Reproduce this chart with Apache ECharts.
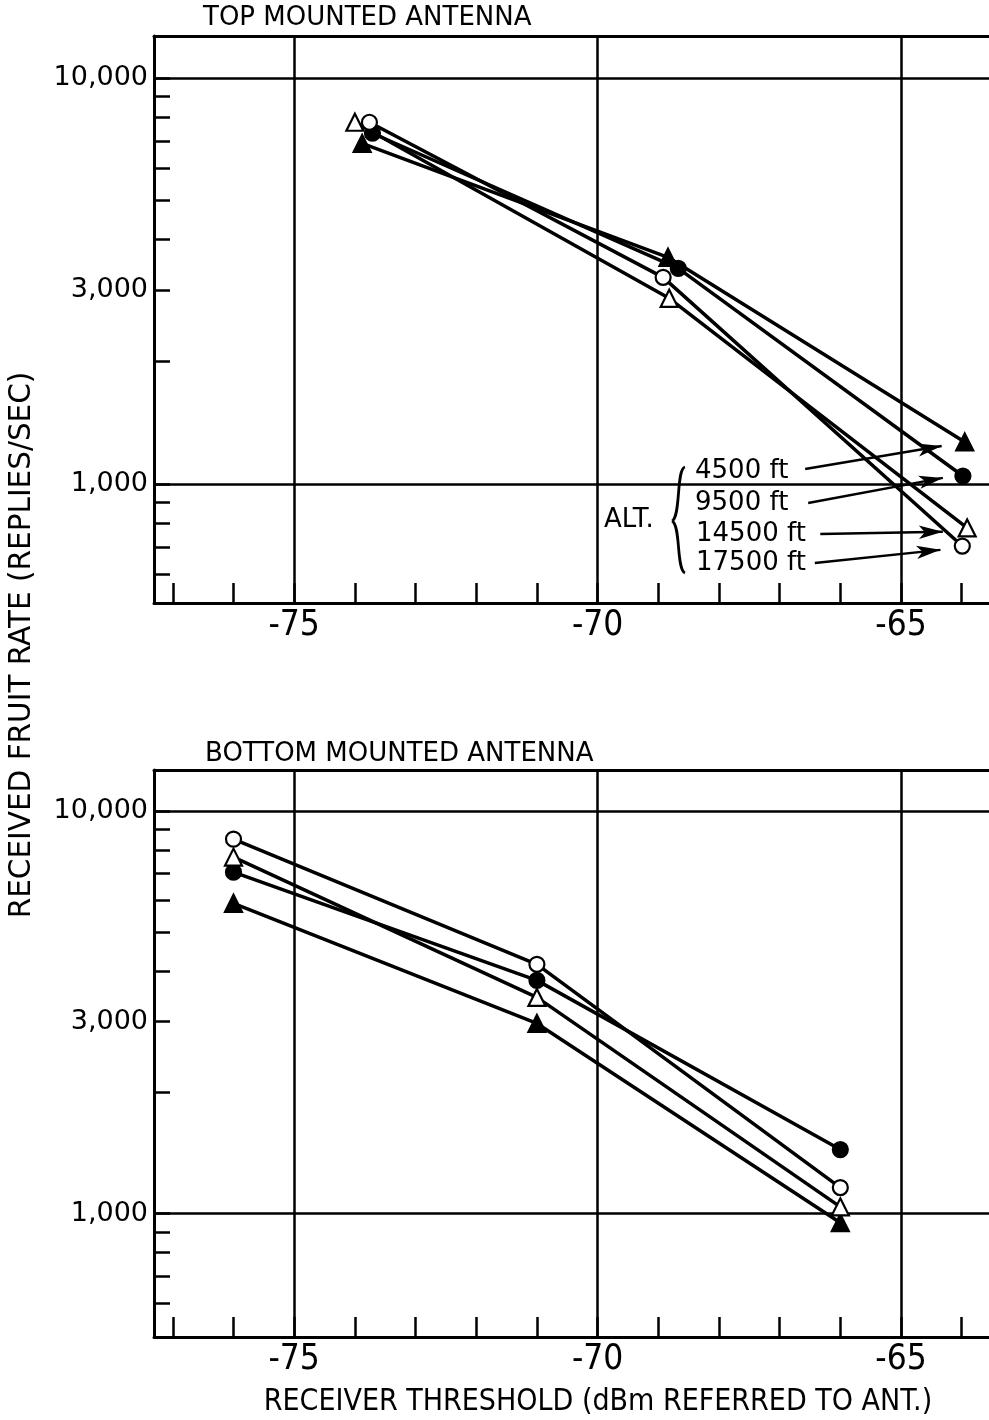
<!DOCTYPE html>
<html>
<head>
<meta charset="utf-8">
<script src="https://cdn.jsdelivr.net/npm/echarts@6/dist/echarts.min.js"></script>
<style>html,body{margin:0;padding:0;background:#fff;}#c{width:989px;height:1420px;}</style>
</head>
<body>
<div id="c"></div>
<script>
// ---- data ----
const altitudes = ['4500 ft', '9500 ft', '14500 ft', '17500 ft'];
const symbols = ['triangle', 'circle', 'triangle', 'circle'];
const filled = [true, true, false, false];

// top mounted antenna
const top4500X = [-73.88, -68.84, -63.95];
const top4500Y = [6900, 3617, 1269];
const top9500X = [-73.71, -68.67, -63.98];
const top9500Y = [7310, 3397, 1046];
const top14500X = [-74.0, -68.82, -63.91];
const top14500Y = [7780, 2866, 779];
const top17500X = [-73.76, -68.92, -63.99];
const top17500Y = [7780, 3228, 703];

// bottom mounted antenna
const botX = [-76, -71, -66];
const bot4500Y = [5902, 2969, 950];
const bot9500Y = [7051, 3798, 1443];
const bot14500Y = [7686, 3445, 1040];
const bot17500Y = [8518, 4163, 1161];

// legend arrows (data space, top panel)
const arrowStartX = [-66.58, -66.53, -66.33, -66.42];
const arrowStartY = [1089, 898, 753, 639];
const arrowEndX = [-64.33, -64.31, -64.31, -64.35];
const arrowEndY = [1240, 1035, 762, 688];

// axes
const xMin = -77.31, xMax = -63.55;
const xTickVals = [-77, -76, -75, -74, -73, -72, -71, -70, -69, -68, -67, -66, -65, -64];
const xLabelVals = [-75, -70, -65];
const xGridVals = [-75, -70, -65];
const yTickVals = [600, 700, 800, 900, 1000, 2000, 3000, 4000, 5000, 6000, 7000, 8000, 9000, 10000];
const yLabelVals = [1000, 3000, 10000];
const yGridVals = [1000, 10000];
const yRangeTop = [509, 12690];
const yRangeBot = [494, 12650];

const NARROW = "'Liberation Sans Narrow', 'DejaVu Sans Condensed', 'Liberation Sans', sans-serif";
const SANS = "'DejaVu Sans', sans-serif";

function xMain(gi) {
  return {
    type: 'value', gridIndex: gi, min: xMin, max: xMax, position: 'bottom',
    axisLine: { show: true, onZero: false, lineStyle: { color: '#000', width: 3 } },
    axisTick: { show: true, inside: true, length: 20, customValues: xTickVals, lineStyle: { color: '#000', width: 2.5 } },
    axisLabel: { customValues: xLabelVals, margin: 5, color: '#000', fontFamily: NARROW, fontSize: 35, formatter: v => String(Math.round(v)) },
    splitLine: { show: false }
  };
}
function xGrid(gi) {
  return {
    type: 'value', gridIndex: gi, min: xMin, max: xMax, position: 'top',
    axisLine: { show: true, onZero: false, lineStyle: { color: '#000', width: 3 } },
    axisTick: { show: false, customValues: xGridVals },
    axisLabel: { show: false },
    splitLine: { show: true, lineStyle: { color: '#000', width: 2.5 } }
  };
}
function yMain(gi, r) {
  return {
    type: 'log', logBase: 10, gridIndex: gi, min: r[0], max: r[1], position: 'left',
    axisLine: { show: true, onZero: false, lineStyle: { color: '#000', width: 3 } },
    axisTick: { show: true, inside: true, length: 16, customValues: yTickVals, lineStyle: { color: '#000', width: 2.5 } },
    axisLabel: { customValues: yLabelVals, margin: 6, color: '#000', fontFamily: SANS, fontSize: 27, formatter: v => Math.round(v).toLocaleString('en-US') },
    splitLine: { show: false }
  };
}
function yGrid(gi, r) {
  return {
    type: 'log', logBase: 10, gridIndex: gi, min: r[0], max: r[1], position: 'right',
    axisLine: { show: false }, axisTick: { show: false, customValues: yGridVals },
    axisLabel: { show: false },
    splitLine: { show: true, lineStyle: { color: '#000', width: 2.5 } }
  };
}

function mkSeries(i, gi, xs, ys, withArrow) {
  const s = {
    name: altitudes[i] + (gi ? ' bottom' : ' top'),
    type: 'line', xAxisIndex: gi * 2, yAxisIndex: gi * 2,
    data: xs.map((x, k) => [x, ys[k]]),
    symbol: symbols[i], symbolSize: symbols[i] === 'triangle' ? 17 : 15,
    showSymbol: true, z: 3,
    lineStyle: { color: '#000', width: 3.5 },
    itemStyle: { color: filled[i] ? '#000' : '#fff', borderColor: '#000', borderWidth: 2.2 }
  };
  if (withArrow) {
    s.markLine = {
      silent: true, symbol: ['none', 'arrow'], symbolSize: [10, 24],
      label: { show: false },
      lineStyle: { color: '#000', width: 2.5, type: 'solid' },
      data: [[{ coord: [arrowStartX[i], arrowStartY[i]] }, { coord: [arrowEndX[i], arrowEndY[i]] }]]
    };
  }
  return s;
}

const topXs = [top4500X, top9500X, top14500X, top17500X];
const topYs = [top4500Y, top9500Y, top14500Y, top17500Y];
const botYs = [bot4500Y, bot9500Y, bot14500Y, bot17500Y];

const series = [];
for (let i = 0; i < 4; i++) series.push(mkSeries(i, 0, topXs[i], topYs[i], true));
for (let i = 0; i < 4; i++) series.push(mkSeries(i, 1, botX, botYs[i], false));

const legendTextY = [471, 503, 534, 563];
const legendTextX = [695, 695, 696, 696];

const graphic = [
  { type: 'text', left: 203, top: 5, style: { text: 'TOP MOUNTED ANTENNA', fill: '#000', font: "26px " + SANS } },
  { type: 'text', left: 205, top: 741, style: { text: 'BOTTOM MOUNTED ANTENNA', fill: '#000', font: "26px " + SANS } },
  { type: 'text', x: 22, y: 645, rotation: Math.PI / 2, style: { text: 'RECEIVED FRUIT RATE (REPLIES/SEC)', fill: '#000', font: "29.5px " + SANS, align: 'center', verticalAlign: 'middle' } },
  { type: 'text', x: 598, y: 1402, style: { text: 'RECEIVER THRESHOLD (dBm REFERRED TO ANT.)', fill: '#000', font: "30px " + NARROW, align: 'center', verticalAlign: 'middle' } },
  { type: 'text', x: 604, y: 520, style: { text: 'ALT.', fill: '#000', font: "26px " + SANS, align: 'left', verticalAlign: 'middle' } },
  { type: 'bezierCurve', shape: { x1: 685, y1: 467, cpx1: 676, cpy1: 469, cpx2: 681, cpy2: 517, x2: 672, y2: 521 }, style: { stroke: '#000', lineWidth: 2.8, fill: null } },
  { type: 'bezierCurve', shape: { x1: 672, y1: 521, cpx1: 681, cpy1: 525, cpx2: 676, cpy2: 569, x2: 685, y2: 573 }, style: { stroke: '#000', lineWidth: 2.8, fill: null } }
];
altitudes.forEach((a, i) => {
  graphic.push({ type: 'text', x: legendTextX[i], y: legendTextY[i], style: { text: a, fill: '#000', font: "26px " + SANS, align: 'left', verticalAlign: 'middle' } });
});

const chart = echarts.init(document.getElementById('c'), null, { renderer: 'canvas' });
chart.setOption({
  animation: false,
  backgroundColor: '#fff',
  grid: [
    { left: 154, right: 0, top: 36, height: 567 },
    { left: 154, right: 0, top: 770, height: 567 }
  ],
  xAxis: [xMain(0), xGrid(0), xMain(1), xGrid(1)],
  yAxis: [yMain(0, yRangeTop), yGrid(0, yRangeTop), yMain(1, yRangeBot), yGrid(1, yRangeBot)],
  series: series,
  graphic: graphic
});
</script>
</body>
</html>
